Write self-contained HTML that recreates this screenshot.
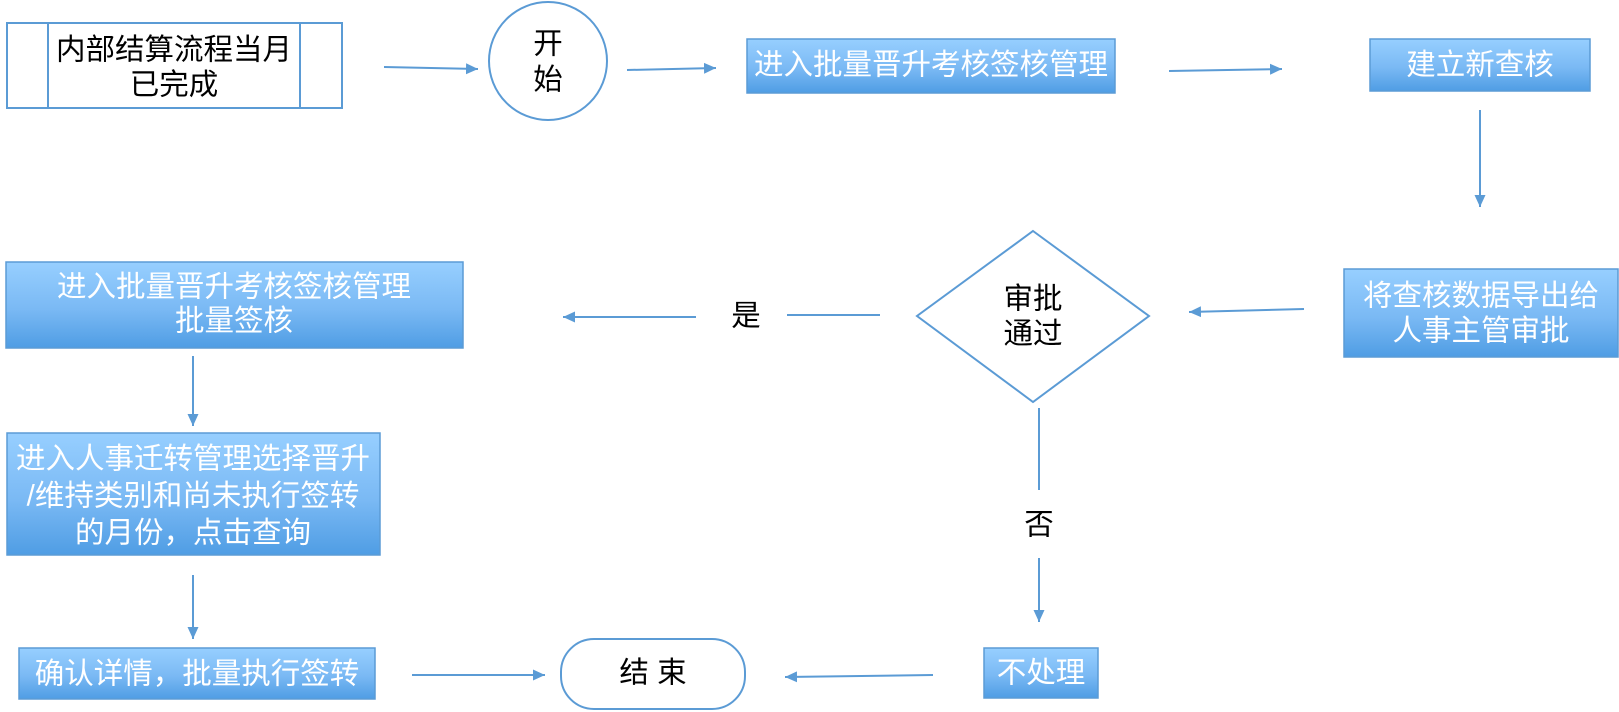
<!DOCTYPE html>
<html>
<head>
<meta charset="utf-8">
<style>
html,body{margin:0;padding:0;background:#fff;}
svg{display:block;}
text{font-family:"Liberation Sans","Noto Sans CJK SC","WenQuanYi Zen Hei",sans-serif;font-size:29.5px;}
.w{fill:#fff;}
.b{fill:#000;}
</style>
</head>
<body>
<svg width="1619" height="712" viewBox="0 0 1619 712" xmlns="http://www.w3.org/2000/svg">
<defs>
<linearGradient id="g" x1="0" y1="0" x2="0" y2="1">
<stop offset="0" stop-color="#97cfff"/>
<stop offset="0.55" stop-color="#7ab9f4"/>
<stop offset="1" stop-color="#4f9de4"/>
</linearGradient>
<marker id="a" markerUnits="userSpaceOnUse" markerWidth="14" markerHeight="12" refX="12" refY="6" orient="auto">
<path d="M0,0.5 L12,6 L0,11.5 z" fill="#5b9bd5"/>
</marker>
</defs>

<g stroke="#5b9bd5" stroke-width="2" fill="none">
<rect x="7" y="23" width="335" height="85" fill="#fff"/>
<line x1="48" y1="23" x2="48" y2="108"/>
<line x1="300" y1="23" x2="300" y2="108"/>
<ellipse cx="548" cy="61" rx="59" ry="59" fill="#fff"/>
<polygon points="1033,231 1149,316 1033,402 917,316" fill="#fff"/>
<rect x="561" y="639" width="184" height="70" rx="33" ry="33" fill="#fff"/>
</g>

<g stroke="#5b9bd5" stroke-width="1.5" fill="url(#g)">
<rect x="747" y="39" width="368" height="54"/>
<rect x="1370" y="39" width="220" height="52"/>
<rect x="1344" y="269" width="274" height="88"/>
<rect x="6" y="262" width="457" height="86"/>
<rect x="7" y="433" width="373" height="122"/>
<rect x="19" y="648" width="356" height="51"/>
<rect x="984" y="648" width="114" height="50"/>
</g>

<g stroke="#5b9bd5" stroke-width="2" fill="none">
<line x1="384" y1="67" x2="478" y2="69" marker-end="url(#a)"/>
<line x1="627" y1="70" x2="716" y2="68" marker-end="url(#a)"/>
<line x1="1169" y1="71" x2="1282" y2="69" marker-end="url(#a)"/>
<line x1="1480" y1="110" x2="1480" y2="207" marker-end="url(#a)"/>
<line x1="1304" y1="309" x2="1189" y2="312" marker-end="url(#a)"/>
<line x1="880" y1="315" x2="787" y2="315"/>
<line x1="696" y1="317" x2="563" y2="317" marker-end="url(#a)"/>
<line x1="193" y1="356" x2="193" y2="426" marker-end="url(#a)"/>
<line x1="193" y1="575" x2="193" y2="639" marker-end="url(#a)"/>
<line x1="412" y1="675" x2="545" y2="675" marker-end="url(#a)"/>
<line x1="933" y1="675" x2="785" y2="677" marker-end="url(#a)"/>
<line x1="1039" y1="408" x2="1039" y2="490"/>
<line x1="1039" y1="558" x2="1039" y2="622" marker-end="url(#a)"/>
</g>

<g text-anchor="middle" dominant-baseline="central">
<text class="b" x="174" y="50">内部结算流程当月</text>
<text class="b" x="174" y="85">已完成</text>
<text class="b" x="548" y="44">开</text>
<text class="b" x="548" y="80">始</text>
<text class="w" x="931" y="65">进入批量晋升考核签核管理</text>
<text class="w" x="1480" y="65">建立新查核</text>
<text class="w" x="1481" y="296">将查核数据导出给</text>
<text class="w" x="1481" y="331">人事主管审批</text>
<text class="b" x="1033" y="299">审批</text>
<text class="b" x="1033" y="334">通过</text>
<text class="b" x="746" y="316">是</text>
<text class="w" x="234" y="287">进入批量晋升考核签核管理</text>
<text class="w" x="234" y="321">批量签核</text>
<text class="w" x="193" y="459">进入人事迁转管理选择晋升</text>
<text class="w" x="193" y="496">/维持类别和尚未执行签转</text>
<text class="w" x="193" y="533">的月份，点击查询</text>
<text class="w" x="197" y="674">确认详情，批量执行签转</text>
<text class="b" x="653" y="673">结 束</text>
<text class="b" x="1039" y="525">否</text>
<text class="w" x="1041" y="673">不处理</text>
</g>
</svg>
</body>
</html>
